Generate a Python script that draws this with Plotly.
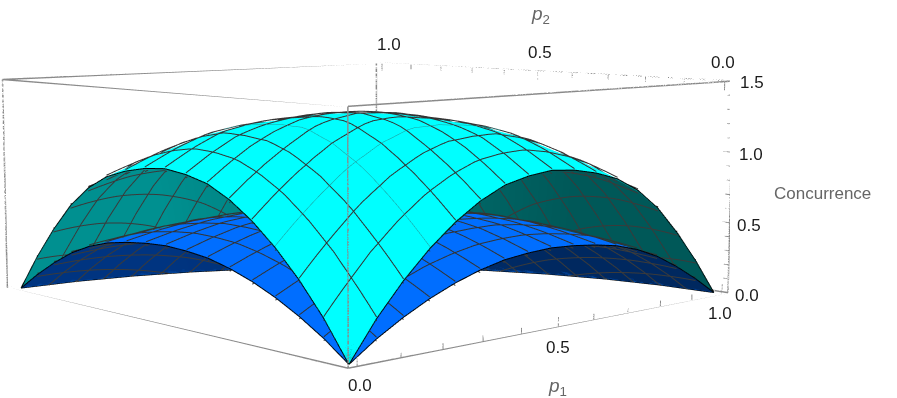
import numpy as np
import plotly.graph_objects as go

p_ticks = [i / 10 for i in range(11)]
z_ticks = [i / 10 for i in range(16)]
radii = [i / 16 for i in range(17)]
angles_deg = [7.5 * i for i in range(13)]
mesh_levels = [i / 16 for i in range(1, 16)]
thin_level = 3 / 16
cyan_half = [
 [0,.24,.44,.61,.75,.86,.94,.98,1.0,.985,.95,.895,.80,.66,.47,.25,0],
 [0,.267,.489,.678,.834,.956,1.045,1.09,1.112,1.095,1.056,.995,.89,.734,.523,.278,0],
 [0,.289,.531,.736,.905,1.037,1.134,1.182,1.206,1.188,1.146,1.079,.965,.796,.567,.302,0],
 [0,.307,.564,.781,.961,1.102,1.204,1.245,1.25,1.24,1.205,1.146,1.025,.845,.602,.32,0],
 [0,.321,.588,.815,1.002,1.149,1.256,1.29,1.285,1.27,1.24,1.185,1.069,.882,.628,.334,0],
 [0,.329,.602,.835,1.027,1.177,1.287,1.32,1.315,1.30,1.27,1.215,1.095,.903,.643,.342,0],
 [0,.331,.607,.842,1.035,1.187,1.297,1.33,1.325,1.31,1.28,1.225,1.104,.911,.649,.345,0],
]
blue_half = [
 [0,.12,.22,.305,.375,.43,.47,.49,.50,.4925,.475,.4475,.40,.33,.235,.125,0],
 [0,.134,.245,.339,.417,.478,.523,.545,.556,.548,.528,.498,.445,.367,.262,.139,0],
 [0,.145,.266,.368,.453,.519,.567,.591,.603,.594,.573,.540,.4825,.398,.284,.151,0],
 [0,.154,.282,.391,.481,.551,.602,.6225,.625,.62,.6025,.573,.5125,.4225,.301,.16,0],
 [0,.161,.294,.408,.501,.575,.628,.645,.6425,.635,.62,.5925,.5345,.441,.314,.167,0],
 [0,.165,.301,.418,.514,.589,.644,.66,.6575,.65,.635,.6075,.5475,.4515,.322,.171,0],
 [0,.166,.304,.421,.518,.594,.649,.665,.6625,.655,.64,.6125,.552,.4555,.325,.173,0],
]

ex,ey,ez,az = -2.3639,-2.5479,.4039,.4119
f,px,py = 1795.6,365.23,185.57
Hv = 2*f*np.tan(np.pi/8)
T = py-Hv/2

th = np.radians(angles_deg)
rr = np.array(radii)
X = np.outer(np.cos(th),rr); Y = np.outer(np.sin(th),rr)
def full(h):
    return np.array(h+h[-2::-1],float)
ZC = full(cyan_half); ZB = full(blue_half)

def lookup(Z,a,b):
    r = np.hypot(a,b); t = np.degrees(np.arctan2(b,a))
    ir = np.clip(r*16,0,15.9999); it = np.clip(t/7.5,0,11.9999)
    i0 = ir.astype(int); j0 = it.astype(int); u = ir-i0; v = it-j0
    return (Z[j0,i0]*(1-u)*(1-v)+Z[j0,i0+1]*u*(1-v)+Z[j0+1,i0]*(1-u)*v+Z[j0+1,i0+1]*u*v)

def mesh_xyz(Z,levels,lift,scale):
    xs,ys,zs=[],[],[]
    for c in levels:
        s = np.linspace(0,np.sqrt(1-c*c),48)
        for a,b in ((np.full_like(s,c),s),(s,np.full_like(s,c))):
            xs+=list(a)+[np.nan]; ys+=list(b)+[np.nan]
            zs+=list(lookup(Z,a,b)*scale+lift)+[np.nan]
    return xs,ys,zs

def top(Z,c):
    return go.Surface(x=X,y=Y,z=Z,colorscale=[[0,c],[1,c]],showscale=False,cmin=0,cmax=2,
        lighting=dict(ambient=.6,diffuse=1,specular=0,roughness=1,fresnel=0),
        lightposition=dict(x=-300,y=-800,z=1000),hoverinfo='skip')
def lining(Z,c0,c1):
    return go.Surface(x=X,y=Y,z=Z*.99,surfacecolor=Y-X,colorscale=[[0,c0],[1,c1]],showscale=False,cmin=-.6,cmax=.6,
        lighting=dict(ambient=1,diffuse=0,specular=0,roughness=1,fresnel=0),hoverinfo='skip')
fig = go.Figure([lining(ZB,'#00285F','#003480'),top(ZB,'#006EFF'),
                 lining(ZC,'#005858','#009090'),top(ZC,'#00FFFF')])
def line(xs,ys,zs,c='#8a8a8a',w=3):
    fig.add_trace(go.Scatter3d(x=xs,y=ys,z=zs,mode='lines',line=dict(color=c,width=w),hoverinfo='skip',showlegend=False))
thick = [c for c in mesh_levels if c != thin_level]
for Z in (ZB,ZC):
    line(*mesh_xyz(Z,mesh_levels,-.012,.99),c='#3a3a3a',w=2)
line(*mesh_xyz(ZB,mesh_levels,.01,1),c='#333333',w=2)
line(*mesh_xyz(ZC,thick,.01,1),c='#333333',w=2)
line(*mesh_xyz(ZC,[thin_level],.01,1),c='#1f9a9a',w=1)
lo,hi=-.02,1.02
for a in (lo,hi):
    for b in (lo,hi):
        line([a,a],[b,b],[0,1.5])
    line([a,a],[lo,hi],[0,0]); line([a,a],[lo,hi],[1.5,1.5])
    line([lo,hi],[a,a],[0,0]); line([lo,hi],[a,a],[1.5,1.5])
for i,t in enumerate(p_ticks):
    l=.045 if i%5==0 else .025
    line([t,t],[lo,lo],[0,l*1.5],w=2)
    line([hi,hi],[t,t],[1.5,1.5-l*1.5],w=2)
for i,t in enumerate(z_ticks):
    line([hi,hi],[lo,lo+(.02 if i%5==0 else .012)],[t,t],w=2)
for Z in (ZB,ZC):
    for row in (0,-1):
        line(X[row],Y[row],Z[row],'#000000',2)
    line(X[:,-1],Y[:,-1],Z[:,-1],'#000000',2)

def ann(t,x,y,c='#1a1a1a',s=17):
    return dict(text=t,xref='paper',yref='paper',x=x/897,y=1-(y-T)/Hv,showarrow=False,xanchor='center',yanchor='middle',
                font=dict(family='Liberation Sans',size=s,color=c))
anns=[ann(t,x,y) for t,x,y in [("0.0",360,385),("0.5",558,347),("1.0",720,313),("1.0",389,44),("0.5",540,52),("0.0",723,62),
      ("1.5",752,82),("1.0",751,154),("0.5",749,225),("0.0",747,295)]]
anns+=[ann("<i>p</i><sub>2</sub>",540,15,'#666666',19),ann("<i>p</i><sub>1</sub>",557,387,'#666666',19),ann("Concurrence",822,193,'#666666',17)]
noax=dict(visible=False)
fig.update_layout(width=897,height=Hv,autosize=False,margin=dict(l=0,r=0,t=0,b=0),paper_bgcolor='white',showlegend=False,
    annotations=anns,
    scene=dict(domain=dict(x=[0,2*px/897],y=[0,1]),
        xaxis=dict(noax,range=[lo,hi]),yaxis=dict(noax,range=[lo,hi]),zaxis=dict(noax,range=[0,1.5]),
        aspectmode='manual',aspectratio=dict(x=1,y=1,z=az),
        camera=dict(eye=dict(x=ex,y=ey,z=ez),center=dict(x=0,y=0,z=0),up=dict(x=0,y=0,z=1))))
post="""var gd=document.getElementById('{plot_id}');document.documentElement.style.overflow='hidden';document.body.style.overflow='hidden';document.body.style.margin='0';gd.style.position='absolute';gd.style.left='0px';gd.style.top='%.1fpx';"""%T
fig.write_html("out.html",post_script=post)
